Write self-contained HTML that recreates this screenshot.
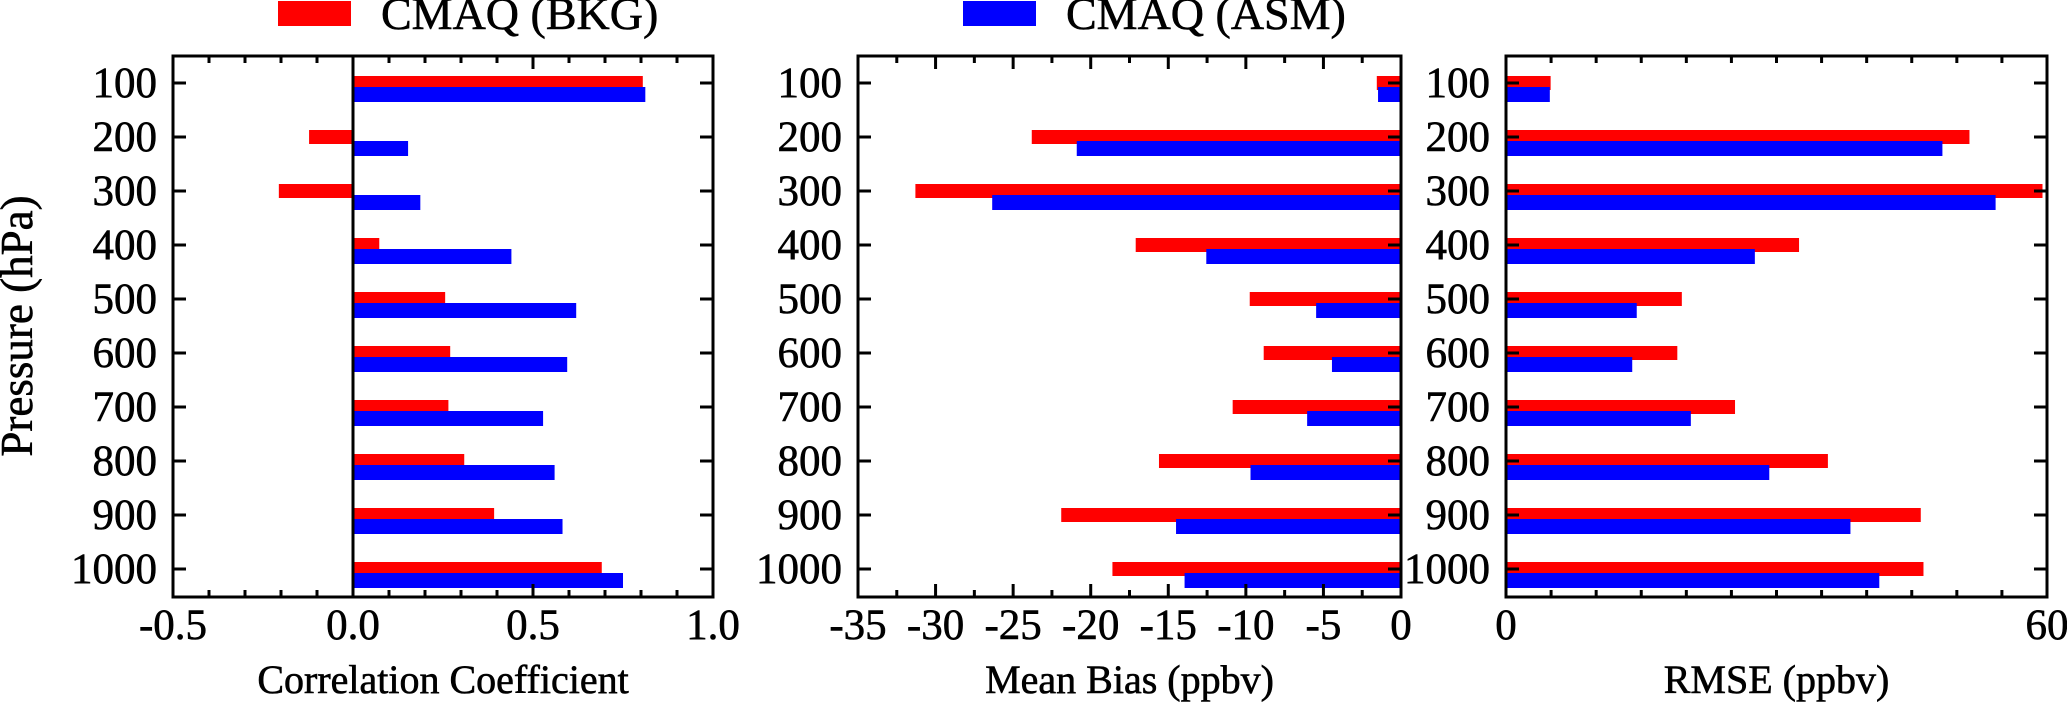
<!DOCTYPE html>
<html><head><meta charset="utf-8"><style>
html,body{margin:0;padding:0;background:#fff;}
svg{display:block;font-family:"Liberation Serif","DejaVu Serif",serif;}
text{stroke:#000;stroke-width:0.6px;}
</style></head><body>
<svg id="chart" width="2067" height="703" viewBox="0 0 2067 703" xmlns="http://www.w3.org/2000/svg">
<g>
<rect x="278" y="1" width="73" height="25" fill="#ff0000"/>
<text x="381" y="29" font-size="46">CMAQ (BKG)</text>
<rect x="963" y="1" width="73" height="25" fill="#0000ff"/>
<text x="1066" y="29" font-size="46">CMAQ (ASM)</text>
</g>
<text transform="translate(32,326) rotate(-90)" text-anchor="middle" font-size="45">Pressure (hPa)</text>
</svg>
<script>
const levels = ["100","200","300","400","500","600","700","800","900","1000"];
const corrBkg = [0.805,-0.122,-0.206,0.073,0.256,0.27,0.265,0.309,0.392,0.691];
const corrAsm = [0.812,0.153,0.187,0.44,0.62,0.595,0.528,0.56,0.582,0.75];
const biasBkg = [-1.56,-23.8,-31.3,-17.1,-9.75,-8.85,-10.85,-15.6,-21.9,-18.6];
const biasAsm = [-1.48,-20.9,-26.35,-12.55,-5.47,-4.45,-6.05,-9.7,-14.5,-13.95];
const rmseBkg = [4.95,51.4,59.5,32.5,19.5,19.0,25.4,35.7,46.0,46.3];
const rmseAsm = [4.86,48.4,54.3,27.6,14.5,14.0,20.5,29.2,38.2,41.4];
const corrTicks = ["-0.5","0.0","0.5","1.0"];
const biasTicks = ["-35","-30","-25","-20","-15","-10","-5","0"];
const rmseTicks = ["0","60"];

const NS="http://www.w3.org/2000/svg";
const svg=document.getElementById('chart');
function mk(tag,attrs,parent){const e=document.createElementNS(NS,tag);for(const k in attrs)e.setAttribute(k,attrs[k]);(parent||svg).appendChild(e);return e;}
const TOP=56,BOT=597;
const yScale=i=>83+i*54;

function panel(name,left,right,xmin,xmax,minorStep,majorVals,tickLabels,bkg,asm,title,zeroLine){
  const g=mk('g',{});
  
  
  const xs=v=>left+(v-xmin)/(xmax-xmin)*(right-left);
  const base=Math.max(xmin,Math.min(xmax,0));
  levels.forEach((lv,i)=>{
    const c=yScale(i);
    const x0=xs(base);
    let xr=xs(bkg[i]);
    const r=mk('rect',{x:Math.min(x0,xr),y:c-7,width:Math.abs(xr-x0),height:14,fill:'#ff0000'},g);
    
    
    let xb=xs(asm[i]);
    const b=mk('rect',{x:Math.min(x0,xb),y:c+4,width:Math.abs(xb-x0),height:15,fill:'#0000ff'},g);
    
    
    mk('line',{x1:left,x2:left+13,y1:c,y2:c,stroke:'#000','stroke-width':3},g);
    mk('line',{x1:right,x2:right-13,y1:c,y2:c,stroke:'#000','stroke-width':3},g);
    const t=mk('text',{x:left-16,y:c+14,'text-anchor':'end','font-size':43},g);
    t.textContent=lv;
    
    
  });
  if(zeroLine){mk('line',{x1:xs(0),x2:xs(0),y1:TOP,y2:BOT,stroke:'#000','stroke-width':3},g);}
  const n=Math.round((xmax-xmin)/minorStep);
  for(let k=1;k<n;k++){
    const v=xmin+k*minorStep;
    const isMajor=majorVals.some(m=>Math.abs(m-v)<1e-6);
    const L=isMajor?13:7;
    const x=xs(v);
    mk('line',{x1:x,x2:x,y1:TOP,y2:TOP+L,stroke:'#000','stroke-width':3},g);
    mk('line',{x1:x,x2:x,y1:BOT,y2:BOT-L,stroke:'#000','stroke-width':3},g);
  }
  majorVals.forEach((v,j)=>{
    const t=mk('text',{x:xs(v),y:639,'text-anchor':'middle','font-size':43},g);
    t.textContent=tickLabels[j];
    
    
  });
  mk('rect',{x:left,y:TOP,width:right-left,height:BOT-TOP,fill:'none',stroke:'#000','stroke-width':3},g);
  const tt=mk('text',{x:(left+right)/2,y:693,'text-anchor':'middle','font-size':40},g);
  tt.textContent=title;
  
  
}
panel('correlation',173,713,-0.5,1.0,0.1,corrTicks.map(Number),corrTicks,corrBkg,corrAsm,'Correlation Coefficient',true);
panel('mean-bias',858,1401,-35,0,2.5,biasTicks.map(Number),biasTicks,biasBkg,biasAsm,'Mean Bias (ppbv)',false);
panel('rmse',1506,2047,0,60,5,rmseTicks.map(Number),rmseTicks,rmseBkg,rmseAsm,'RMSE (ppbv)',false);
</script>
</body></html>
